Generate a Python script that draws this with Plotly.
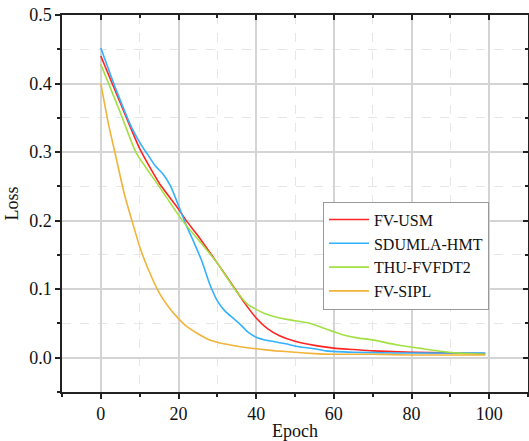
import plotly.graph_objects as go

usm_ep = [0, 5, 10, 15, 20, 22, 25, 30, 34, 37, 40, 43, 46, 50, 55, 60, 65, 70, 80, 90, 99]
usm_loss = [0.44, 0.372, 0.305, 0.255, 0.217, 0.2, 0.178, 0.138, 0.105, 0.08, 0.058, 0.042, 0.032, 0.024, 0.018, 0.014, 0.012, 0.010, 0.008, 0.007, 0.006]

sdu_ep = [0, 4, 8, 11, 12, 14, 16, 18, 20, 22, 24, 26, 28, 30, 32, 34, 36, 38, 40, 43, 47, 51, 55, 58, 65, 75, 85, 99]
sdu_loss = [0.452, 0.39, 0.335, 0.305, 0.297, 0.28, 0.268, 0.25, 0.222, 0.193, 0.168, 0.141, 0.108, 0.083, 0.068, 0.058, 0.048, 0.037, 0.03, 0.025, 0.021, 0.016, 0.013, 0.01, 0.008, 0.007, 0.007, 0.007]

thu_ep = [0, 5, 9, 15, 21, 26, 30, 34.5, 38, 42, 46, 50, 54, 58, 62, 66, 70, 76, 82, 88, 94, 99]
thu_loss = [0.428, 0.358, 0.3, 0.25, 0.2, 0.166, 0.138, 0.1, 0.077, 0.065, 0.058, 0.054, 0.05, 0.042, 0.034, 0.029, 0.026, 0.019, 0.014, 0.009, 0.006, 0.005]

sipl_ep = [0, 2, 4, 6, 8, 10, 12, 15, 18, 20, 22, 25, 28, 32, 36, 40, 45, 50, 55, 60, 70, 80, 90, 99]
sipl_loss = [0.4, 0.34, 0.29, 0.24, 0.2, 0.162, 0.132, 0.095, 0.07, 0.057, 0.046, 0.035, 0.026, 0.02, 0.016, 0.013, 0.01, 0.008, 0.006, 0.005, 0.005, 0.004, 0.004, 0.004]

x_ticks = [0, 20, 40, 60, 80, 100]
y_ticks = [0.0, 0.1, 0.2, 0.3, 0.4, 0.5]
y_tick_text = ["0.0", "0.1", "0.2", "0.3", "0.4", "0.5"]

series = [
    ("FV-USM", usm_ep, usm_loss, "#FF2424"),
    ("SDUMLA-HMT", sdu_ep, sdu_loss, "#33B1FF"),
    ("THU-FVFDT2", thu_ep, thu_loss, "#A2E043"),
    ("FV-SIPL", sipl_ep, sipl_loss, "#F2B33A"),
]

ff = "Liberation Serif"

fig = go.Figure()
for name, x, y, c in series:
    fig.add_trace(go.Scatter(x=x, y=y, mode="lines", name=name,
                             line=dict(color=c, width=1.6, shape="spline", smoothing=0.5)))

fig.add_trace(go.Scatter(x=[None], y=[None], xaxis="x2", yaxis="y2", showlegend=False))

grid_major = "#D4D4D4"
grid_minor = "#E6E6E6"
axis_col = "#222222"
xr = [-10, 110]
yr = [-0.05, 0.5]

fig.update_layout(
    width=529, height=441,
    margin=dict(l=62, r=1, t=15, b=49, autoexpand=False),
    paper_bgcolor="white", plot_bgcolor="white",
    font=dict(family=ff, size=18, color="#111111"),
    showlegend=True,
    legend=dict(x=0.56, y=0.505, xanchor="left", yanchor="top",
                bgcolor="white", bordercolor="#999999", borderwidth=1,
                font=dict(family=ff, size=16, color="#111111"), tracegroupgap=0,
                itemwidth=40),
    xaxis=dict(range=xr, tickmode="array", tickvals=x_ticks,
               tickfont=dict(family=ff, size=18),
               showgrid=True, gridcolor=grid_major, gridwidth=1.5,
               ticks="outside", ticklen=5, tickwidth=1.5, tickcolor=axis_col,
               showline=True, linecolor=axis_col, linewidth=1.5, zeroline=False,
               automargin=False,
               minor=dict(tickvals=[-10, 10, 30, 50, 70, 90, 110], showgrid=True,
                          gridcolor=grid_minor, griddash="dash", gridwidth=1,
                          ticks="outside", ticklen=3, tickcolor=axis_col),
               title=dict(text="Epoch", standoff=1, font=dict(family=ff, size=18))),
    yaxis=dict(range=yr, tickmode="array", tickvals=y_ticks, ticktext=y_tick_text,
               tickfont=dict(family=ff, size=18),
               showgrid=True, gridcolor=grid_major, gridwidth=1.5,
               ticks="outside", ticklen=5, tickwidth=1.5, tickcolor=axis_col,
               showline=True, linecolor=axis_col, linewidth=1.5, zeroline=False,
               automargin=False,
               minor=dict(tickvals=[-0.05, 0.05, 0.15, 0.25, 0.35, 0.45], showgrid=True,
                          gridcolor=grid_minor, griddash="dash", gridwidth=1,
                          ticks="outside", ticklen=3, tickcolor=axis_col),
               title=dict(text="Loss", standoff=6, font=dict(family=ff, size=18))),
    xaxis2=dict(overlaying="x", side="top", range=xr,
                tickmode="array", tickvals=x_ticks,
                showticklabels=False, showgrid=False, zeroline=False, automargin=False,
                ticks="inside", ticklen=5, tickwidth=1.5, tickcolor=axis_col,
                showline=True, linecolor=axis_col, linewidth=1.5,
                minor=dict(tickvals=[10, 30, 50, 70, 90], ticks="inside", ticklen=3,
                           tickcolor=axis_col, showgrid=False)),
    yaxis2=dict(overlaying="y", side="right", range=yr,
                tickmode="array", tickvals=y_ticks,
                showticklabels=False, showgrid=False, zeroline=False, automargin=False,
                ticks="inside", ticklen=5, tickwidth=1.5, tickcolor=axis_col,
                showline=True, linecolor=axis_col, linewidth=1.5,
                minor=dict(tickvals=[0.05, 0.15, 0.25, 0.35, 0.45], ticks="inside", ticklen=3,
                           tickcolor=axis_col, showgrid=False)),
)

fig.write_html("out.html", config={"displayModeBar": False},
               post_script="document.body.style.margin='0px';")
